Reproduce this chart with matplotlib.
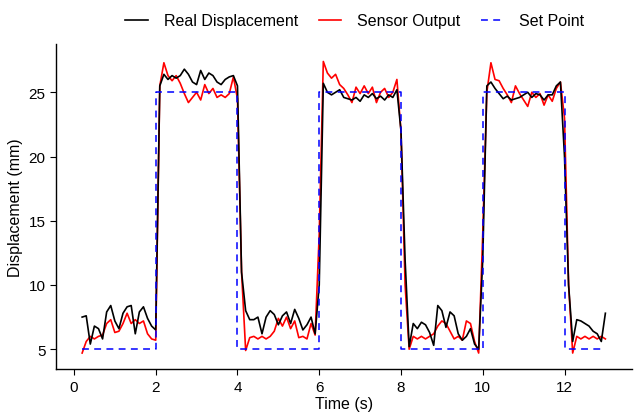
import numpy as np
import matplotlib
matplotlib.use("Agg")
import matplotlib.pyplot as plt

plt.rcParams['font.family'] = ['Liberation Sans', 'DejaVu Sans']

# sampled every 0.1 s starting at t = 0.2 s
t_start = 0.2
t_step = 0.1

real_disp = [
    7.5, 7.6, 5.4, 6.8, 6.6, 5.8, 7.9, 8.4, 7.2, 6.6,
    7.8, 8.3, 8.4, 6.2, 7.9, 8.3, 7.4, 6.8, 6.5, 25.5,
    26.4, 26.0, 26.3, 26.1, 26.3, 26.8, 26.4, 25.8, 25.6, 26.7,
    26.0, 26.5, 26.3, 25.8, 25.6, 26.0, 26.2, 26.3, 25.5, 11.0,
    8.0, 7.3, 7.3, 7.5, 6.2, 7.5, 8.0, 7.7, 6.9, 7.6,
    7.9, 7.0, 8.1, 7.4, 6.5, 6.9, 7.5, 6.2, 10.0, 25.7,
    25.0, 24.8, 25.0, 25.2, 24.6, 24.5, 24.4, 24.6, 24.3, 24.8,
    24.6, 24.9, 24.5, 24.7, 24.4, 24.8, 24.6, 25.2, 22.0, 12.0,
    5.2, 7.0, 6.6, 7.1, 6.9, 6.3, 5.3, 8.4, 8.0, 6.7,
    7.9, 7.6, 6.2, 5.7, 6.0, 6.6, 5.4, 5.0, 12.0, 25.5,
    25.8, 25.3, 24.9, 24.5, 24.7, 24.4, 24.5, 24.6, 24.8, 25.0,
    24.6, 24.9, 24.8, 24.4, 24.8, 24.8, 25.5, 25.8, 20.0, 10.0,
    5.6, 7.3, 7.2, 7.0, 6.8, 6.4, 6.2, 5.6, 7.8,
]

sensor_out = [
    4.7, 5.6, 6.0, 5.8, 6.0, 6.1, 7.0, 7.3, 6.3, 6.4,
    7.0, 7.8, 7.0, 7.3, 7.0, 7.2, 6.2, 5.8, 5.7, 25.5,
    27.3, 26.3, 25.9, 26.3, 25.7, 24.9, 24.2, 24.6, 25.0, 24.4,
    25.6, 24.9, 25.3, 24.6, 24.8, 24.6, 24.9, 26.2, 24.5, 11.0,
    4.9, 5.9, 6.0, 5.8, 6.0, 5.8, 6.0, 6.4, 7.4, 6.8,
    7.5, 6.6, 7.2, 5.9, 6.0, 5.8, 7.0, 6.1, 14.0, 27.4,
    26.5, 26.1, 26.4, 25.6, 25.3, 24.8, 24.2, 25.4, 24.9, 25.5,
    24.9, 25.4, 24.2, 25.0, 25.3, 24.6, 25.0, 26.0, 22.0, 10.0,
    5.0, 6.0, 5.8, 6.0, 5.8, 6.0, 6.2, 6.8, 7.2, 7.0,
    6.4, 5.8, 6.0, 5.7, 7.2, 7.0, 5.6, 4.7, 14.0, 25.0,
    27.3, 26.0, 25.9, 25.3, 24.8, 24.2, 25.5, 24.9, 24.4, 23.9,
    25.0, 24.6, 24.9, 24.0, 24.8, 24.3, 25.3, 25.8, 23.0, 10.0,
    4.7, 6.0, 5.8, 6.0, 5.8, 6.0, 5.8, 6.0, 5.8,
]

# set point changes (step function)
set_times = [0.2, 2, 4, 6, 8, 10, 12, 13]
set_levels = [5, 25, 5, 25, 5, 25, 5, 5]

t = t_start + t_step * np.arange(len(real_disp))

fig = plt.figure(figsize=(6.36, 4.14), dpi=100)
ax = fig.add_axes([0.088, 0.106, 0.905, 0.785])

ax.plot(t, sensor_out, color='#FF0000', lw=1.2, zorder=2, label='Sensor Output')
ax.plot(t, real_disp, color='black', lw=1.2, zorder=3, label='Real Displacement')
ax.step(set_times, set_levels, where='post', color='#0000FF', lw=1.1,
        dashes=(4.5, 3.5), zorder=4, label='Set Point')

ax.set_xlim(-0.44, 13.64)
ax.set_ylim(3.45, 28.75)
ax.set_xticks([0, 2, 4, 6, 8, 10, 12])
ax.set_yticks([5, 10, 15, 20, 25])

for side in ['top', 'right']:
    ax.spines[side].set_visible(False)
for side in ['left', 'bottom']:
    ax.spines[side].set_linewidth(1.0)
ax.tick_params(direction='out', length=4, width=0.8, labelsize=11,
               colors='black')

ax.set_xlabel('Time (s)', fontsize=11.5, labelpad=2)
ax.set_ylabel('Displacement (mm)', fontsize=11.5, labelpad=4)

handles, labels = ax.get_legend_handles_labels()
order = [1, 0, 2]
fig.legend([handles[i] for i in order], [labels[i] for i in order],
           loc='upper center', bbox_to_anchor=(0.558, 1.0), ncol=3,
           frameon=False, fontsize=11.5, handlelength=1.4, columnspacing=1.3,
           handletextpad=1.0)

fig.savefig('out.png', dpi=100)
